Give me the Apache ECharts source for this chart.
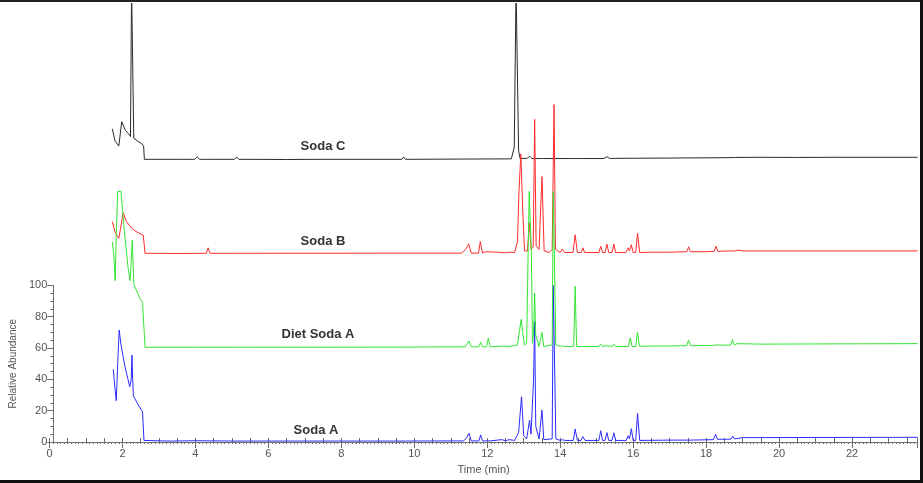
<!DOCTYPE html>
<html><head><meta charset="utf-8">
<script src="https://cdn.jsdelivr.net/npm/echarts@6/dist/echarts.min.js"></script>
<style>html,body{margin:0;padding:0;background:#fff}#c{width:923px;height:483px}</style>
</head><body><div id="c"></div>
<script>
// Trace names and vertical offsets (relative abundance units)
const traceNames = ['Soda C', 'Soda B', 'Diet Soda A', 'Soda A'];
const traceOffsets = [180, 120, 60, 0];
const traceColors = ['#2a2a2a', '#ff2a2a', '#33e633', '#2b2bff'];

// x ticks (min) and y tick labels
const xTickLabels = [0, 2, 4, 6, 8, 10, 12, 14, 16, 18, 20, 22];
const yTickLabels = [0, 20, 40, 60, 80, 100];

// [time (min), relative abundance]
const sodaC = [
  [1.72,20],[1.80,12],[1.90,9],[1.98,24.5],[2.08,19],[2.16,17],[2.22,15],[2.25,110],[2.28,110],[2.31,14],[2.34,12.8],[2.45,11.5],[2.52,10.7],[2.58,9],[2.60,0.5],
  [3.5,0.5],[3.98,0.5],[4.05,2],[4.12,0.5],[4.28,0.5],[4.33,1.5],[4.38,0.5],[5.07,0.5],[5.13,2],[5.19,0.5],[6.5,0.4],[7.5,0.5],
  [9.66,0.5],[9.71,2],[9.76,0.5],[12.66,0.8],[12.74,8],[12.79,110],[12.83,110],[12.86,6],[12.9,1],[13.1,1.2],[13.16,2.5],[13.22,1],
  [13.45,1],[13.5,1.5],[13.55,1],[14.36,1],[14.41,1.8],[14.46,1],[14.56,1],[14.6,1.5],[14.65,1],[15.2,1],[15.28,2.2],[15.35,1.1],
  [16.05,1.2],[16.1,1.6],[16.15,1.2],[16.93,1.3],[16.98,2.4],[17.03,1.3],[17.47,1.4],[17.52,2.4],[17.57,1.4],[18.3,1.5],[18.71,1.6],[18.76,2.6],[18.81,1.7],
  [19.5,1.8],[20.5,1.7],[21.5,1.8],[23.8,1.8]
];
const sodaB = [
  [1.72,20.7],[1.80,14],[1.90,10],[1.96,18],[2.02,26.4],[2.10,21],[2.25,16.5],[2.40,14],[2.57,12],[2.62,0.5],
  [3.5,0.4],[4.30,0.5],[4.35,4],[4.40,0.5],[5.08,0.5],[5.13,1.5],[5.18,0.5],[9.65,0.6],[9.70,1.2],[9.75,0.6],
  [11.3,0.6],[11.41,3],[11.44,2.5],[11.49,6.4],[11.56,0.6],[11.76,0.6],[11.81,8],[11.87,0.6],[11.92,0.6],[11.95,1.5],[12.0,0.6],
  [12.3,1.2],[12.5,0.8],[12.6,1.2],[12.75,1],[12.83,8],[12.87,40],[12.92,64],[12.97,30],[13.02,2],[13.1,2],[13.16,20],[13.2,3],
  [13.26,5],[13.3,86],[13.34,5],[13.42,3],[13.5,49.5],[13.56,2],[13.7,1],[13.78,3],[13.83,95.5],[13.87,3],[14.0,1],[14.06,3.2],[14.12,1],
  [14.35,1],[14.41,12.3],[14.47,1],[14.58,1],[14.62,4],[14.67,1],[15.06,1],[15.11,5],[15.16,1],[15.23,1],[15.28,6.4],[15.33,1],
  [15.42,1],[15.47,6.4],[15.52,1],[15.8,1],[15.86,4],[15.9,2],[15.95,6],[16.0,1],[16.07,1],[16.12,13.4],[16.18,1],[16.5,1.2],[17.0,1.2],
  [17.47,1.5],[17.52,4.7],[17.57,1.5],[18.0,1.5],[18.22,1.8],[18.27,5],[18.32,1.8],[18.68,2],[18.72,3],[18.78,2],[18.9,2.5],[19.0,2],[23.8,2]
];
const dietSodaA = [
  [1.72,68],[1.76,60],[1.80,43],[1.84,80],[1.87,100],[1.96,100],[2.05,75],[2.16,50],[2.21,43],[2.25,60],[2.27,69],[2.29,55],[2.31,41],
  [2.45,33],[2.55,29],[2.59,28],[2.62,0.5],[4.0,0.5],[5.08,0.5],[5.13,1.5],[5.18,0.5],[9.65,0.6],[9.7,1],[9.75,0.6],
  [11.4,0.8],[11.5,4.5],[11.56,0.8],[11.77,0.8],[11.82,3.8],[11.87,0.8],[11.98,0.8],[12.03,6.4],[12.08,0.8],[12.4,1.2],[12.6,1],
  [12.83,2],[12.89,12],[12.93,18.3],[12.97,10],[13.02,2],[13.08,3],[13.12,60],[13.15,100],[13.18,100],[13.21,60],[13.24,3],[13.27,10],[13.3,35],[13.33,8],
  [13.42,1],[13.5,10],[13.55,1],[13.78,2],[13.81,100],[13.85,100],[13.88,2],[14.0,1],[14.06,1.5],[14.12,1],[14.37,1],[14.41,39.4],[14.45,1],
  [14.55,1],[14.6,2],[14.65,1],[15.06,1],[15.11,2.5],[15.16,1],[15.28,1.5],[15.42,1],[15.47,2.5],[15.52,1],[15.87,1],[15.92,6.4],[15.97,1],
  [16.07,1],[16.12,10],[16.17,1.2],[17.0,1.3],[17.47,1.5],[17.52,5],[17.57,1.5],[18.11,1.6],[18.16,2.5],[18.2,1.6],[18.27,2],[18.32,1.7],
  [18.67,1.8],[18.72,5.3],[18.77,2],[18.85,2.8],[18.9,2.2],[19.5,2.5],[23.8,2.8]
];
const sodaA = [
  [1.75,46.4],[1.79,35],[1.83,26.4],[1.87,50],[1.91,71.5],[1.96,62],[2.07,48],[2.2,35.3],[2.24,40],[2.26,55.5],[2.28,40],[2.3,29.4],
  [2.45,23],[2.55,19.4],[2.59,1],[3.25,0.6],[3.3,1.2],[3.35,0.6],[4.0,0.8],[5.05,0.6],[5.1,1.4],[5.15,0.6],[9.66,0.6],[9.71,1.2],[9.76,0.6],
  [11.35,0.7],[11.43,2.5],[11.46,2],[11.5,5.6],[11.56,0.7],[11.77,0.7],[11.82,4.5],[11.87,0.7],[11.98,0.7],[12.03,1.2],[12.08,0.7],
  [12.4,1.5],[12.5,0.8],[12.6,1.5],[12.75,1],[12.86,6],[12.94,28.9],[13.0,4],[13.08,2],[13.16,14],[13.2,5],[13.23,20],[13.27,40],[13.3,76.8],[13.33,10],
  [13.42,2],[13.5,20.4],[13.55,1.5],[13.78,2],[13.81,100],[13.85,100],[13.88,2],[14.0,1],[14.06,1.5],[14.12,1],[14.36,1],[14.41,8.3],[14.47,1],
  [14.57,1],[14.62,3.4],[14.68,1],[15.06,1],[15.11,7.2],[15.16,1],[15.23,1],[15.28,6],[15.33,1],[15.42,1],[15.47,5.9],[15.52,1],
  [15.81,1],[15.86,4],[15.9,2],[15.95,8.5],[16.0,1],[16.07,1],[16.12,18.3],[16.18,1],[17.0,1.2],[17.45,1.2],[17.5,2.1],[17.55,1.2],
  [18.2,1.5],[18.26,4.9],[18.31,1.7],[18.68,1.8],[18.73,3.7],[18.78,2],[19.0,2.8],[23.8,3]
];

const traces = [sodaC, sodaB, dietSodaA, sodaA];
const drawOrder = [0, 1, 3, 2];

const chart = echarts.init(document.getElementById('c'), null, {renderer: 'canvas'});
const axisGray = '#6e6e6e';
const labelGray = '#555';
const font = 'Arial, "Liberation Sans", sans-serif';

const series = drawOrder.map(i => ({
  name: traceNames[i],
  type: 'line',
  xAxisIndex: 0, yAxisIndex: 0,
  showSymbol: false, symbol: 'none',
  lineStyle: {width: 1, color: traceColors[i]},
  data: traces[i].map(p => [p[0], p[1] + traceOffsets[i]]),
  animation: false,
  z: 3
}));

const labelPos = [[323,146],[323,241],[318,334],[316,430]];

chart.setOption({
  animation: false,
  grid: [
    {left: 49.5, right: 5.3, top: 3.5, bottom: 41},
    {left: 49.5, right: 5.3, bottom: 41, height: 156.6}
  ],
  xAxis: [
    {gridIndex: 0, type: 'value', min: 0, max: 23.8, interval: 2,
     name: 'Time (min)', nameLocation: 'middle', nameGap: 22,
     nameTextStyle: {color: labelGray, fontSize: 11, fontFamily: font},
     axisLine: {show: true, onZero: false, lineStyle: {color: axisGray, width: 1}},
     axisTick: {show: true, length: 6, lineStyle: {color: axisGray}},
     minorTick: {show: true, splitNumber: 20, length: 2, lineStyle: {color: axisGray}},
     axisLabel: {color: labelGray, fontSize: 11, fontFamily: font, margin: 6,
       showMaxLabel: false,
       formatter: v => xTickLabels.includes(v) ? String(v) : ''},
     splitLine: {show: false}},
    {gridIndex: 0, type: 'value', min: 0, max: 23.8, interval: 0.5,
     axisLine: {show: false}, axisLabel: {show: false},
     axisTick: {show: true, length: 4, lineStyle: {color: axisGray}},
     splitLine: {show: false}},
    {gridIndex: 1, type: 'value', min: 0, max: 23.8, show: false}
  ],
  yAxis: [
    {gridIndex: 0, type: 'value', min: 0, max: 280, show: false},
    {gridIndex: 1, type: 'value', min: 0, max: 100, interval: 20,
     name: 'Relative Abundance', nameLocation: 'middle', nameGap: 33,
     nameTextStyle: {color: labelGray, fontSize: 10, fontFamily: font},
     axisLine: {show: true, lineStyle: {color: axisGray}},
     axisTick: {show: true, length: 6, lineStyle: {color: axisGray}},
     minorTick: {show: true, splitNumber: 4, length: 3, lineStyle: {color: axisGray}},
     axisLabel: {color: labelGray, fontSize: 11, fontFamily: font, margin: 6,
       formatter: v => yTickLabels.includes(v) ? String(v) : ''},
     splitLine: {show: false}}
  ],
  series: series,
  graphic: [
    ...traceNames.map((n, i) => ({
      type: 'text', x: labelPos[i][0], y: labelPos[i][1],
      style: {text: n, fill: '#333', font: 'bold 13px Arial, "Liberation Sans", sans-serif',
              textAlign: 'center', textVerticalAlign: 'middle'}
    })),
    {type: 'rect', shape: {x: 0, y: 0, width: 923, height: 2}, style: {fill: '#222'}},
    {type: 'rect', shape: {x: 920, y: 0, width: 3, height: 483}, style: {fill: '#111'}},
    {type: 'rect', shape: {x: 0, y: 480, width: 923, height: 3}, style: {fill: '#111'}}
  ]
});
</script></body></html>
